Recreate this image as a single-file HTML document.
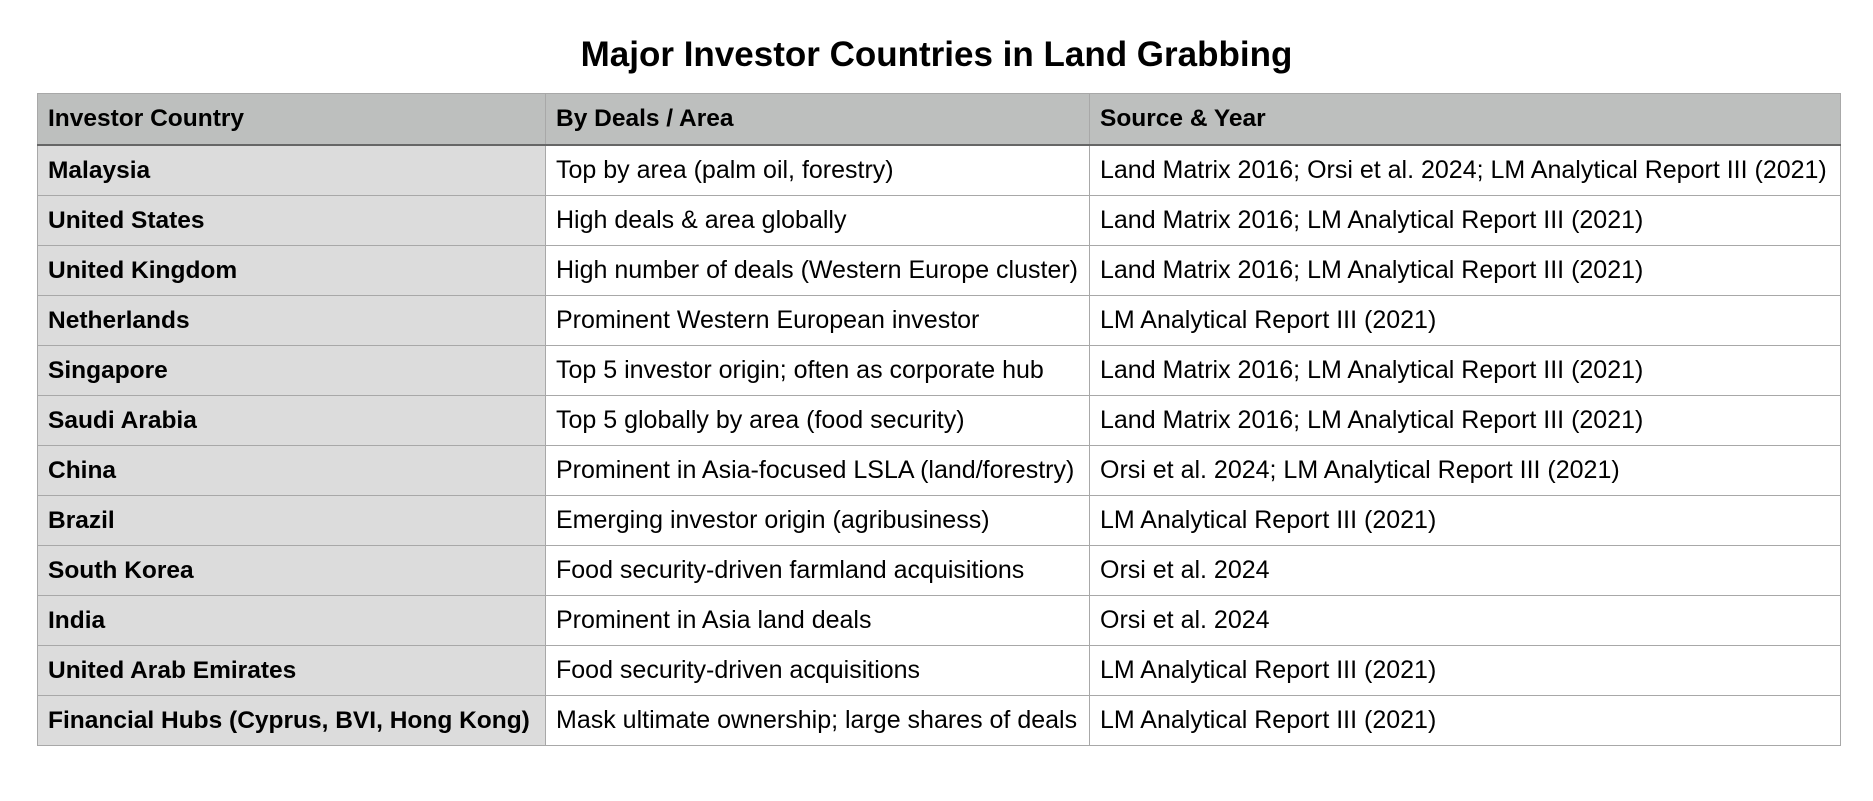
<!DOCTYPE html>
<html><head><meta charset="utf-8"><style>
html,body{margin:0;padding:0;background:#fff;width:1873px;height:801px;overflow:hidden;font-family:"Liberation Sans",Arial,sans-serif;}
h1{position:absolute;left:0;top:35px;width:1873px;margin:0;text-align:center;font-size:35px;font-weight:bold;color:#000;line-height:40px;}
table{position:absolute;left:37px;top:93px;border-collapse:collapse;table-layout:fixed;width:1803px;}
td,th{border:1px solid #a8a8a8;height:49px;padding:0 0 0 10px;font-size:25px;text-align:left;color:#000;white-space:nowrap;overflow:hidden;}
th{background:#bdbfbe;font-weight:bold;height:50px;border-bottom:2px solid #666;font-size:24.5px;}
td:first-child{background:#dcdcdc;font-weight:bold;font-size:24.5px;}
</style></head><body>
<h1>Major Investor Countries in Land Grabbing</h1>
<table>
<colgroup><col style="width:508px"><col style="width:544px"><col style="width:751px"></colgroup>
<tr><th>Investor Country</th><th>By Deals / Area</th><th>Source &amp; Year</th></tr>
<tr><td>Malaysia</td><td>Top by area (palm oil, forestry)</td><td>Land Matrix 2016; Orsi et al. 2024; LM Analytical Report III (2021)</td></tr>
<tr><td>United States</td><td>High deals &amp; area globally</td><td>Land Matrix 2016; LM Analytical Report III (2021)</td></tr>
<tr><td>United Kingdom</td><td>High number of deals (Western Europe cluster)</td><td>Land Matrix 2016; LM Analytical Report III (2021)</td></tr>
<tr><td>Netherlands</td><td>Prominent Western European investor</td><td>LM Analytical Report III (2021)</td></tr>
<tr><td>Singapore</td><td>Top 5 investor origin; often as corporate hub</td><td>Land Matrix 2016; LM Analytical Report III (2021)</td></tr>
<tr><td>Saudi Arabia</td><td>Top 5 globally by area (food security)</td><td>Land Matrix 2016; LM Analytical Report III (2021)</td></tr>
<tr><td>China</td><td>Prominent in Asia-focused LSLA (land/forestry)</td><td>Orsi et al. 2024; LM Analytical Report III (2021)</td></tr>
<tr><td>Brazil</td><td>Emerging investor origin (agribusiness)</td><td>LM Analytical Report III (2021)</td></tr>
<tr><td>South Korea</td><td>Food security-driven farmland acquisitions</td><td>Orsi et al. 2024</td></tr>
<tr><td>India</td><td>Prominent in Asia land deals</td><td>Orsi et al. 2024</td></tr>
<tr><td>United Arab Emirates</td><td>Food security-driven acquisitions</td><td>LM Analytical Report III (2021)</td></tr>
<tr><td>Financial Hubs (Cyprus, BVI, Hong Kong)</td><td>Mask ultimate ownership; large shares of deals</td><td>LM Analytical Report III (2021)</td></tr>
</table>
</body></html>
